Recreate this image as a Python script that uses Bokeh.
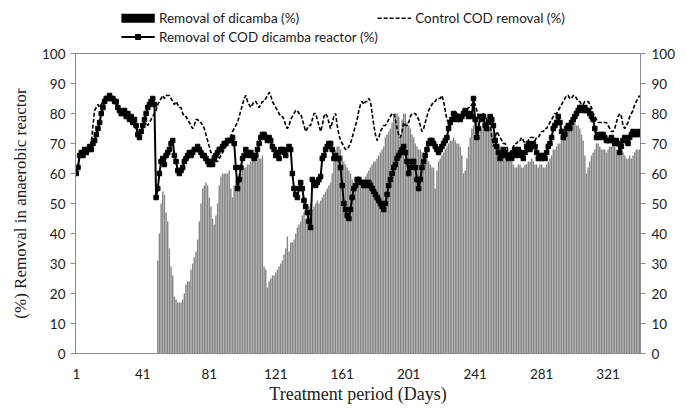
from bokeh.plotting import figure
from bokeh.layouts import column
from bokeh.models import Range1d, LinearAxis, FixedTicker, ColumnDataSource
from bokeh.core.properties import value
from bokeh.embed import file_html
from bokeh.resources import INLINE

# ---------------- data ----------------
days = list(range(1, 341))
x_tick_values = [1, 41, 81, 121, 161, 201, 241, 281, 321]
y_tick_values = [0, 10, 20, 30, 40, 50, 60, 70, 80, 90, 100]
series_labels = ["Removal of dicamba (%)", "Control COD removal (%)",
                 "Removal of COD dicamba reactor (%)"]

dicamba_removal = [
    0, 0, 0, 0, 0, 0, 0, 0, 0, 0,
    0, 0, 0, 0, 0, 0, 0, 0, 0, 0,
    0, 0, 0, 0, 0, 0, 0, 0, 0, 0,
    0, 0, 0, 0, 0, 0, 0, 0, 0, 0,
    0, 0, 0, 0, 0, 0, 0, 0, 0, 31,
    40, 50, 54, 53, 47, 44, 35, 29, 26, 19,
    18, 17, 17, 17, 18, 20, 23, 24, 24, 28,
    30, 32, 34, 38, 44, 50, 55, 56, 57, 56,
    52, 49, 45, 43, 46, 50, 56, 59, 60, 60,
    60, 60, 61, 55, 52, 56, 58, 59, 60, 60,
    61, 62, 62, 63, 63, 64, 65, 65, 64, 65,
    65, 65, 66, 29, 28, 22, 24, 25, 26, 26,
    27, 28, 29, 30, 31, 33, 35, 39, 34, 37,
    37, 38, 40, 42, 43, 44, 46, 47, 45, 47,
    49, 50, 48, 49, 50, 51, 50, 51, 52, 53,
    54, 55, 56, 57, 60, 64, 68, 69, 69, 68,
    66, 64, 63, 62, 61, 60, 58, 57, 56, 58,
    59, 58, 57, 58, 59, 60, 61, 62, 63, 64,
    64, 65, 66, 67, 68, 69, 72, 73, 74, 75,
    77, 79, 80, 80, 79, 72, 78, 80, 80, 77,
    76, 75, 73, 72, 70, 69, 68, 68, 67, 67,
    66, 65, 64, 63, 62, 62, 55, 61, 64, 65,
    66, 67, 68, 69, 70, 71, 71, 72, 71, 70,
    70, 69, 66, 60, 61, 65, 69, 72, 75, 76,
    78, 79, 77, 74, 75, 76, 77, 76, 75, 75,
    74, 73, 73, 72, 70, 69, 68, 67, 67, 66,
    65, 64, 64, 63, 62, 62, 63, 63, 62, 62,
    63, 63, 64, 64, 65, 64, 63, 63, 62, 63,
    63, 62, 62, 63, 64, 65, 66, 68, 68, 69,
    70, 70, 71, 72, 73, 74, 75, 76, 77, 77,
    77, 76, 76, 75, 73, 71, 66, 60, 62, 64,
    66, 67, 68, 70, 70, 69, 68, 68, 68, 67,
    68, 69, 69, 70, 69, 68, 67, 67, 66, 67,
    66, 65, 65, 66, 65, 66, 67, 68, 68, 68,
]

control_cod_removal = [
    60, 63, 66, 67, 66, 68, 67, 68, 69, 70,
    76, 81, 82, 83, 82, 83, 84, 85, 85, 86,
    86, 85, 84, 84, 83, 82, 81, 81, 80, 80,
    79, 78, 78, 77, 77, 76, 75, 74, 73, 74,
    75, 76, 77, 76, 77, 78, 79, 80, 81, 83,
    84, 85, 86, 85, 86, 86, 86, 85, 84, 83,
    84, 83, 82, 82, 80, 79, 79, 78, 77, 76,
    75, 76, 78, 78, 77, 77, 76, 75, 73, 71,
    69, 67, 66, 65, 64, 64, 65, 66, 67, 68,
    69, 70, 71, 72, 74, 75, 76, 77, 79, 81,
    83, 85, 86, 84, 83, 82, 83, 84, 84, 83,
    82, 83, 84, 84, 85, 86, 87, 86, 84, 83,
    82, 81, 80, 79, 79, 78, 76, 75, 76, 78,
    79, 80, 81, 81, 80, 80, 78, 76, 74, 75,
    76, 76, 78, 80, 80, 78, 76, 74, 76, 79,
    80, 79, 77, 75, 77, 79, 80, 76, 73, 71,
    70, 69, 68, 68, 69, 70, 72, 74, 76, 78,
    81, 83, 84, 83, 84, 84, 85, 84, 80, 76,
    73, 71, 72, 74, 75, 76, 76, 77, 78, 79,
    80, 80, 78, 75, 73, 72, 74, 77, 76, 76,
    77, 79, 80, 80, 80, 79, 78, 76, 74, 75,
    77, 79, 81, 82, 83, 84, 84, 85, 85, 85,
    86, 84, 81, 78, 77, 76, 78, 80, 81, 80,
    79, 79, 80, 81, 81, 81, 82, 82, 83, 84,
    83, 81, 79, 78, 79, 80, 79, 78, 77, 77,
    72, 69, 72, 74, 73, 72, 71, 70, 70, 69,
    67, 67, 68, 69, 70, 70, 71, 71, 72, 71,
    70, 69, 71, 72, 72, 72, 71, 72, 72, 73,
    74, 74, 75, 75, 76, 77, 78, 79, 80, 80,
    81, 82, 83, 84, 85, 86, 86, 85, 85, 86,
    86, 85, 84, 84, 83, 83, 84, 84, 84, 83,
    82, 80, 79, 78, 77, 77, 77, 77, 77, 77,
    76, 75, 74, 74, 75, 77, 79, 80, 79, 76,
    75, 76, 77, 79, 80, 81, 83, 84, 85, 86,
]

reactor_cod_removal = [
    60, 62, 66, 67, 66, 68, 67, 68, 69, 68,
    70, 71, 73, 75, 77, 80, 82, 84, 85, 85,
    86, 85, 85, 84, 84, 82, 81, 80, 80, 81,
    79, 80, 78, 79, 77, 78, 76, 73, 72, 74,
    76, 78, 80, 82, 83, 84, 85, 83, 52, 55,
    60, 64, 65, 63, 66, 67, 68, 70, 71, 66,
    64, 61, 60, 61, 62, 64, 65, 66, 67, 66,
    67, 68, 68, 69, 68, 67, 66, 66, 65, 64,
    63, 64, 63, 65, 66, 67, 68, 68, 69, 70,
    70, 71, 71, 71, 72, 70, 62, 55, 58, 62,
    65, 66, 68, 67, 66, 67, 66, 65, 66, 68,
    70, 72, 73, 73, 72, 71, 72, 71, 69, 68,
    66, 67, 65, 68, 68, 67, 66, 68, 69, 68,
    60, 55, 53, 52, 55, 57, 55, 51, 49, 47,
    44, 42, 58, 57, 56, 57, 58, 59, 65, 66,
    68, 69, 70, 70, 68, 65, 66, 65, 65, 62,
    56, 50, 48, 46, 45, 48, 52, 55, 56, 58,
    58, 57, 57, 56, 57, 56, 57, 56, 55, 54,
    53, 52, 51, 50, 49, 48, 50, 53, 56, 58,
    60, 62, 63, 65, 66, 67, 68, 69, 67, 64,
    60, 62, 64, 64, 62, 58, 55, 58, 62, 64,
    66, 68, 70, 71, 71, 70, 69, 68, 67, 68,
    69, 70, 71, 72, 75, 77, 78, 80, 79, 78,
    79, 78, 79, 80, 81, 80, 79, 80, 79, 85,
    78, 72, 75, 79, 78, 79, 76, 75, 77, 79,
    78, 76, 71, 69, 67, 65, 66, 68, 67, 66,
    65, 66, 65, 67, 68, 66, 68, 67, 66, 65,
    67, 69, 70, 68, 69, 70, 69, 67, 65, 66,
    65, 66, 65, 67, 69, 70, 72, 75, 76, 77,
    79, 77, 74, 72, 73, 75, 76, 75, 77, 78,
    79, 80, 81, 82, 82, 81, 82, 81, 81, 80,
    79, 78, 75, 72, 73, 72, 73, 73, 72, 71,
    71, 71, 72, 71, 70, 71, 70, 67, 69, 71,
    72, 71, 70, 72, 73, 74, 73, 73, 74, 73,
]

assert len(dicamba_removal) == len(days)
assert len(control_cod_removal) == len(days)
assert len(reactor_cod_removal) == len(days)

# ---------------- styling constants ----------------
AXIS_GREY = "#8a8a8a"
TEXT_COL = "#1a1a1a"
SANS = "Lato"
SERIF = "Liberation Serif"
FULL_W = 677
LEG_H = 45
DASH = "4 2"

# ---------------- legend strip (separate small figure above the plot) ----------------
leg = figure(width=FULL_W, height=LEG_H, title=None,
             x_range=Range1d(0, FULL_W), y_range=Range1d(LEG_H, 0),
             x_axis_type=None, y_axis_type=None, min_border=0,
             output_backend="svg", toolbar_location=None,
             outline_line_color=None, background_fill_color="white",
             border_fill_color="white")
row1_y, row2_y = 17.8, 36.5
sw_left = [55, 362, 55]
sw_w = 40
sw_y = [row1_y, row1_y, row2_y]
leg.rect(x=[sw_left[0] + sw_w / 2], y=[sw_y[0]], width=sw_w, height=9,
         fill_color="black", line_color=None)
leg.line(x=[sw_left[1], sw_left[1] + sw_w], y=[sw_y[1], sw_y[1]],
         line_color="black", line_width=1.6, line_dash=DASH)
leg.line(x=[sw_left[2], sw_left[2] + sw_w], y=[sw_y[2], sw_y[2]],
         line_color="black", line_width=2)
leg.scatter(x=[sw_left[2] + sw_w / 2], y=[sw_y[2]], marker="square", size=5, color="black")
leg.text(x=[l + sw_w + 5 for l in sw_left], y=sw_y, text=series_labels,
         text_font=value(SANS), text_font_size="13.5px", text_color=TEXT_COL,
         text_baseline="middle", text_align="left")

# ---------------- main chart ----------------
src = ColumnDataSource(dict(day=days, dicamba=dicamba_removal,
                            control=control_cod_removal, reactor=reactor_cod_removal))

p = figure(frame_width=565, frame_height=300, title=None,
           x_range=Range1d(0.5, 340.5), y_range=Range1d(0, 100),
           output_backend="svg", toolbar_location=None,
           min_border_left=75, min_border_right=37, min_border_top=8, min_border_bottom=47,
           background_fill_color="white", border_fill_color="white",
           outline_line_color=AXIS_GREY, outline_line_width=1)
p.xgrid.visible = False
p.ygrid.visible = False

p.vbar(x="day", top="dicamba", width=0.85, source=src,
       fill_color="#858585", line_color=None)
p.line("day", "control", source=src, line_color="black", line_width=1.6, line_dash=DASH)
p.line("day", "reactor", source=src, line_color="black", line_width=2)
p.scatter("day", "reactor", source=src, marker="square", size=4.5, color="black")

# x axis
xa = p.xaxis[0]
xa.ticker = FixedTicker(ticks=x_tick_values)
xa.axis_label = "Treatment period (Days)"
xa.axis_label_text_font = SERIF
xa.axis_label_text_font_size = "18px"
xa.axis_label_text_font_style = "normal"
xa.axis_label_text_color = TEXT_COL
xa.axis_label_standoff = 2
xa.major_tick_line_color = None
xa.minor_tick_line_color = None
xa.axis_line_color = AXIS_GREY
xa.major_label_text_font = SANS
xa.major_label_text_font_size = "13.5px"
xa.major_label_text_color = TEXT_COL
xa.major_label_standoff = 9

# left y axis
ya = p.yaxis[0]
ya.ticker = FixedTicker(ticks=y_tick_values)
ya.axis_label = "(%) Removal in anaerobic reactor"
ya.axis_label_text_font = SERIF
ya.axis_label_text_font_size = "17px"
ya.axis_label_text_font_style = "normal"
ya.axis_label_text_color = TEXT_COL
ya.axis_label_standoff = 9
ya.major_tick_out = 5
ya.major_tick_in = 0
ya.major_tick_line_color = AXIS_GREY
ya.minor_tick_line_color = None
ya.axis_line_color = AXIS_GREY
ya.major_label_text_font = SANS
ya.major_label_text_font_size = "13.5px"
ya.major_label_text_color = TEXT_COL
ya.major_label_standoff = 5

# right y axis
ra = LinearAxis(ticker=FixedTicker(ticks=y_tick_values))
ra.major_tick_out = 5
ra.major_tick_in = 0
ra.major_tick_line_color = AXIS_GREY
ra.minor_tick_line_color = None
ra.axis_line_color = AXIS_GREY
ra.major_label_text_font = SANS
ra.major_label_text_font_size = "13.5px"
ra.major_label_text_color = TEXT_COL
ra.major_label_standoff = 6
p.add_layout(ra, "right")

layout = column(leg, p, spacing=0)
open("out.html", "w").write(file_html(layout, INLINE))
